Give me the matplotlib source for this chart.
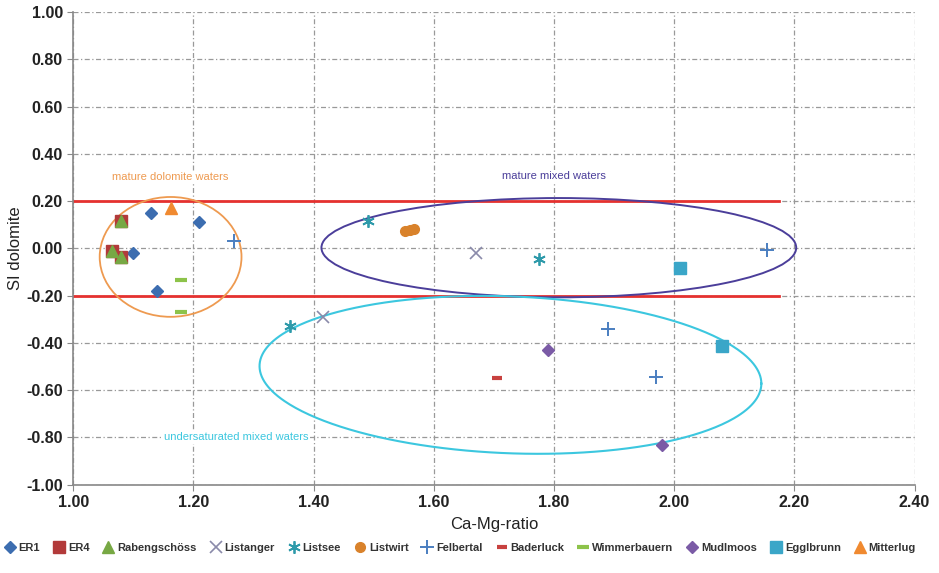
import numpy as np
import matplotlib
matplotlib.use('Agg')
import matplotlib.pyplot as plt
from matplotlib.patches import Ellipse

plt.rcParams['font.family'] = ['Liberation Sans', 'DejaVu Sans']

# sample groups: x = Ca-Mg ratio, y = SI dolomite
er1_x = [1.13, 1.21, 1.10, 1.14]
er1_y = [0.15, 0.11, -0.02, -0.18]
er4_x = [1.08, 1.065, 1.08]
er4_y = [0.115, -0.01, -0.035]
rab_x = [1.08, 1.065, 1.08]
rab_y = [0.115, -0.01, -0.035]
listanger_x = [1.67, 1.415]
listanger_y = [-0.02, -0.29]
listsee_x = [1.49, 1.775, 1.36]
listsee_y = [0.115, -0.045, -0.33]
listwirt_x = [1.552, 1.56, 1.567]
listwirt_y = [0.075, 0.078, 0.083]
felbertal_x = [1.268, 2.155, 1.89, 1.97]
felbertal_y = [0.03, -0.005, -0.34, -0.545]
baderluck_x = [1.705]
baderluck_y = [-0.548]
wimmer_x = [1.18, 1.18]
wimmer_y = [-0.132, -0.268]
mudlmoos_x = [1.79, 1.98]
mudlmoos_y = [-0.428, -0.83]
egglbrunn_x = [2.01, 2.08]
egglbrunn_y = [-0.085, -0.415]
mitterlug_x = [1.162]
mitterlug_y = [0.17]

fig = plt.figure(figsize=(9.39, 5.73), dpi=100)
ax = fig.add_axes([0.078, 0.154, 0.896, 0.825])

ax.set_xlim(1.0, 2.4)
ax.set_ylim(-1.0, 1.0)
ax.set_xticks(np.arange(1.0, 2.41, 0.2))
ax.set_yticks(np.arange(-1.0, 1.01, 0.2))
fmt = matplotlib.ticker.FuncFormatter(lambda v, p: '%.2f' % (round(v, 2) + 0.0))
ax.xaxis.set_major_formatter(fmt)
ax.yaxis.set_major_formatter(fmt)
ax.grid(True, color='#999999', linestyle=(0, (4, 2, 1, 2)), linewidth=0.9)
ax.set_axisbelow(True)
for s in ['top', 'right']:
    ax.spines[s].set_visible(False)
for s in ['left', 'bottom']:
    ax.spines[s].set_color('#888888')
    ax.spines[s].set_linewidth(1.2)
ax.tick_params(colors='#888888', labelcolor='#222222', labelsize=11.5, length=4)
for lab in ax.get_xticklabels() + ax.get_yticklabels():
    lab.set_fontweight('bold')
ax.set_xlabel('Ca-Mg-ratio', fontsize=12, color='#222222', labelpad=5)
ax.set_ylabel('SI dolomite', fontsize=12, color='#222222', labelpad=2)

# saturation limits
ax.plot([1.0, 2.175], [0.2, 0.2], color='#E5312F', lw=2, zorder=2)
ax.plot([1.0, 2.175], [-0.2, -0.2], color='#E5312F', lw=2, zorder=2)

# group ellipses
ax.add_patch(Ellipse((1.162, -0.036), 0.236, 0.507, fill=False, ec='#EE9A50', lw=1.3, zorder=3))
ax.add_patch(Ellipse((1.808, 0.003), 0.79, 0.42, fill=False, ec='#4B3E9A', lw=1.4, zorder=3))
t = np.linspace(0, 2 * np.pi, 400)
ax.plot(1.7275 + 0.4175 * np.cos(t), -0.535 + 0.332 * np.sin(t) - 0.037 * np.cos(t),
        color='#3CC7DF', lw=1.5, zorder=3)

bb = dict(facecolor='white', edgecolor='none', pad=1)
ax.text(1.162, 0.30, 'mature dolomite waters', color='#EE9A50', fontsize=8, ha='center', va='center', bbox=bb)
ax.text(1.80, 0.305, 'mature mixed waters', color='#4B3E9A', fontsize=8, ha='center', va='center', bbox=bb)
ax.text(1.272, -0.80, 'undersaturated mixed waters', color='#3CC7DF', fontsize=8, ha='center', va='center', bbox=bb)

kw = dict(linestyle='none', zorder=4)
ax.plot(er1_x, er1_y, marker='D', ms=6, color='#3C6DB0', label='ER1', **kw)
ax.plot(er4_x, er4_y, marker='s', ms=8, color='#B23A3A', label='ER4', **kw)
ax.plot(rab_x, rab_y, marker='^', ms=8, color='#77A844', label='Rabengschöss', **kw)
ax.plot(listanger_x, listanger_y, marker='x', ms=8, mew=1.2, color='#8A8AAA', label='Listanger', **kw)
ax.plot(listsee_x, listsee_y, marker=(6, 2, 0), ms=9, mew=1.3, color='#2E9AAA', label='Listsee', **kw)
ax.plot(listwirt_x, listwirt_y, marker='o', ms=7, color='#D9822B', label='Listwirt', **kw)
ax.plot(felbertal_x, felbertal_y, marker='+', ms=10, mew=1.4, color='#4A7EC0', label='Felbertal', **kw)
ax.plot(baderluck_x, baderluck_y, marker='_', ms=7, mew=3, color='#C8413F', label='Baderluck', **kw)
ax.plot(wimmer_x, wimmer_y, marker='_', ms=9, mew=3, color='#8DC34A', label='Wimmerbauern', **kw)
ax.plot(mudlmoos_x, mudlmoos_y, marker='D', ms=6, color='#7B5BA6', label='Mudlmoos', **kw)
ax.plot(egglbrunn_x, egglbrunn_y, marker='s', ms=8, color='#3AA6C8', label='Egglbrunn', **kw)
ax.plot(mitterlug_x, mitterlug_y, marker='^', ms=8, color='#F08A30', label='Mitterlug', **kw)

leg = fig.legend(loc='center', bbox_to_anchor=(0.49, 0.044), ncol=12, frameon=False,
                 handlelength=1.0, handletextpad=0.3, columnspacing=1.2,
                 prop={'weight': 'bold', 'size': 8})
for txt in leg.get_texts():
    txt.set_color('#333333')

fig.savefig('out.png', dpi=100)
